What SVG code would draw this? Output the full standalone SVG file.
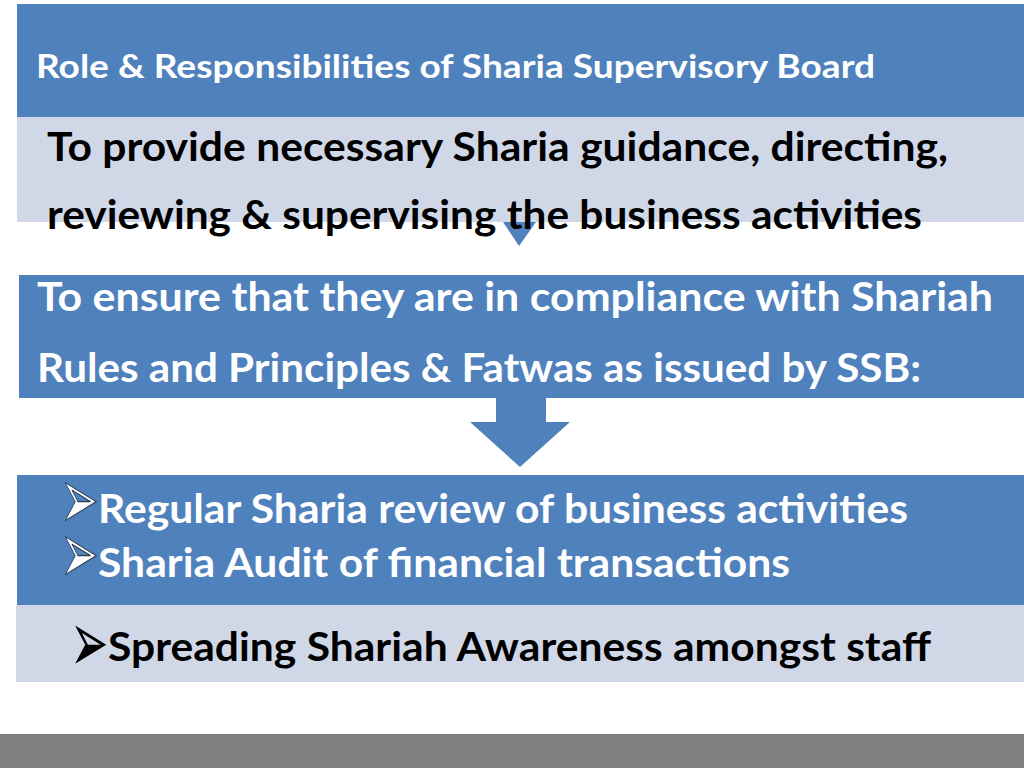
<svg xmlns="http://www.w3.org/2000/svg" width="1024" height="768" viewBox="0 0 1024 768">
<style>
.blue{fill:#4f81bd}
.light{fill:#d0d8e8}
.t{font-family:Lato,"Open Sans","Liberation Sans",sans-serif;font-weight:bold}
.w{fill:#ffffff}
.k{fill:#000000}
.bul{font-family:"DejaVu Sans",sans-serif;font-size:46px}
.bw{fill:#ffffff;stroke:#2a3a50;stroke-width:0.6}
.bk{fill:#000000}
</style>
<rect x="0" y="0" width="1024" height="768" fill="#ffffff"/>
<g id="connectors">
<polygon class="blue" points="503,222 536,222 519,246"/>
<polygon class="blue" points="496,398 546,398 546,422 570,422 520,467 470,422 496,422"/>
</g>
<g id="title">
<rect class="blue" x="17" y="4" width="1007" height="113"/>
<text class="t w" x="36" y="78" font-size="33" textLength="839" lengthAdjust="spacingAndGlyphs">Role &amp; Responsibilities of Sharia Supervisory Board</text>
</g>
<g id="guidance">
<rect class="light" x="17" y="117" width="1007" height="105"/>
<text class="t k" x="47" y="161" font-size="40" textLength="901" lengthAdjust="spacingAndGlyphs">To provide necessary Sharia guidance, directing,</text>
<text class="t k" x="47" y="229" font-size="40" textLength="875" lengthAdjust="spacingAndGlyphs">reviewing &amp; supervising the business activities</text>
</g>
<g id="compliance">
<rect class="blue" x="19" y="275" width="1005" height="123"/>
<text class="t w" x="37" y="311" font-size="40" textLength="956" lengthAdjust="spacingAndGlyphs">To ensure that they are in compliance with Shariah</text>
<text class="t w" x="37" y="382" font-size="40" textLength="884" lengthAdjust="spacingAndGlyphs">Rules and Principles &amp; Fatwas as issued by SSB:</text>
</g>
<g id="review">
<rect class="blue" x="17" y="475" width="1007" height="130"/>
<text class="bul bw" transform="translate(60,529) scale(1,1.9)">➢</text>
<text class="t w" x="98" y="523" font-size="40" textLength="810" lengthAdjust="spacingAndGlyphs">Regular Sharia review of business activities</text>
<text class="bul bw" transform="translate(60,583) scale(1,1.9)">➢</text>
<text class="t w" x="98" y="577" font-size="40" textLength="692" lengthAdjust="spacingAndGlyphs">Sharia Audit of financial transactions</text>
</g>
<g id="awareness">
<rect class="light" x="16" y="605" width="1008" height="77"/>
<text class="bul bk" transform="translate(70,672) scale(1,1.9)">➢</text>
<text class="t k" x="108" y="661" font-size="40" textLength="823" lengthAdjust="spacingAndGlyphs">Spreading Shariah Awareness amongst staff</text>
</g>
<rect x="0" y="734" width="1024" height="34" fill="#808080"/>
</svg>
